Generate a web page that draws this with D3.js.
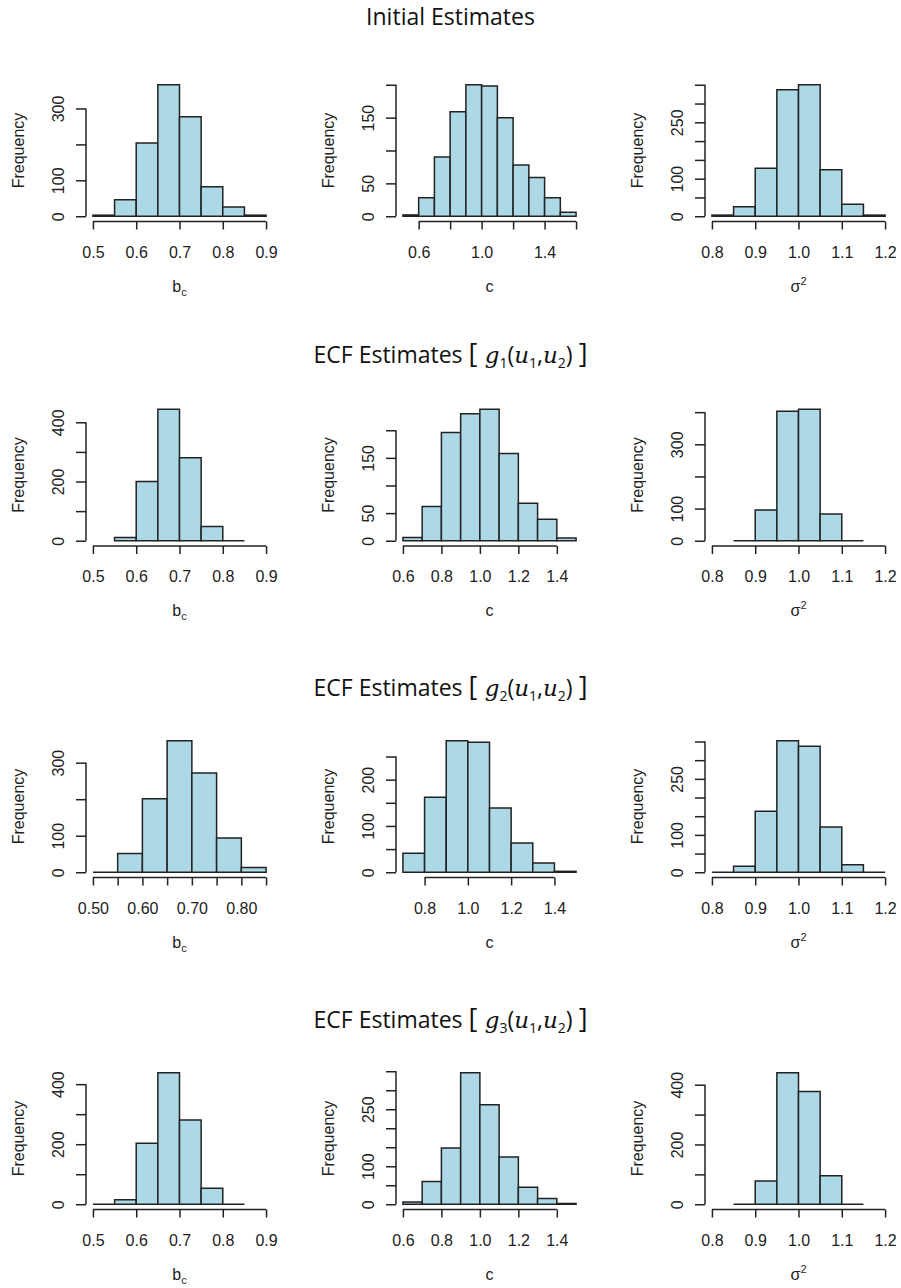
<!DOCTYPE html>
<html>
<head>
<meta charset="utf-8">
<script src="https://cdn.jsdelivr.net/npm/d3@7"></script>
<style>
  body { margin: 0; background: #fff; }
  svg { display: block; }
  text { font-family: "Liberation Sans", Arial, sans-serif; fill: #222; }
  .title { font-family: "Open Sans", "Noto Sans", sans-serif; font-size: 23px; fill: #111; }
</style>
</head>
<body>
<div id="chart"></div>
<script>
// row titles
const rowTitles = ['Initial Estimates', 'g1', 'g2', 'g3']

// bin edges
const bcBreaks = [0.5, 0.55, 0.6, 0.65, 0.7, 0.75, 0.8, 0.85, 0.9]
const bcBreaksB = [0.55, 0.6, 0.65, 0.7, 0.75, 0.8, 0.85]
const bcBreaksC = [0.5, 0.55, 0.6, 0.65, 0.7, 0.75, 0.8, 0.85]
const cBreaksA = [0.5, 0.6, 0.7, 0.8, 0.9, 1.0, 1.1, 1.2, 1.3, 1.4, 1.5, 1.6]
const cBreaksB = [0.6, 0.7, 0.8, 0.9, 1.0, 1.1, 1.2, 1.3, 1.4, 1.5]
const cBreaksC = [0.7, 0.8, 0.9, 1.0, 1.1, 1.2, 1.3, 1.4, 1.5]
const s2BreaksA = [0.8, 0.85, 0.9, 0.95, 1.0, 1.05, 1.1, 1.15, 1.2]
const s2BreaksB = [0.85, 0.9, 0.95, 1.0, 1.05, 1.1, 1.15]

// counts
const initBc = [3, 46, 204, 366, 277, 82, 26, 3]
const initC = [2, 28, 90, 159, 200, 198, 150, 78, 59, 28, 6]
const initS2 = [3, 25, 128, 337, 350, 124, 32, 3]
const g1Bc = [11, 200, 444, 280, 48, 0]
const g1C = [6, 62, 196, 230, 238, 158, 68, 39, 5]
const g1S2 = [0, 96, 403, 409, 83, 0]
const g2Bc = [0, 51, 201, 360, 272, 94, 13]
const g2C = [41, 162, 284, 281, 139, 63, 20, 2]
const g2S2 = [0, 16, 163, 352, 337, 121, 20, 0]
const g3Bc = [0, 15, 203, 438, 281, 53, 0]
const g3C = [6, 60, 148, 346, 262, 124, 45, 15, 2]
const g3S2 = [0, 78, 440, 377, 95, 0]

// x ticks and the labels R kept
const bcTicks = [0.5, 0.6, 0.7, 0.8, 0.9]
const bcTicksFine = [0.5, 0.55, 0.6, 0.65, 0.7, 0.75, 0.8, 0.85]
const bcFineLabels = ['0.50', '', '0.60', '', '0.70', '', '0.80', '']
const cTicksA = [0.6, 0.8, 1.0, 1.2, 1.4, 1.6]
const cLabelsA = ['0.6', '', '1.0', '', '1.4', '']
const cTicksB = [0.6, 0.8, 1.0, 1.2, 1.4]
const cTicksC = [0.8, 1.0, 1.2, 1.4]
const s2Ticks = [0.8, 0.9, 1.0, 1.1, 1.2]

// y ticks and kept labels
const yT300 = [0, 100, 200, 300]
const yT400 = [0, 100, 200, 300, 400]
const yT200 = [0, 50, 100, 150, 200]
const yT250 = [0, 50, 100, 150, 200, 250]
const yT350 = [0, 50, 100, 150, 200, 250, 300, 350]

const panels = [
  // row 1
  { breaks: bcBreaks, counts: initBc, xlim: [0.5, 0.9], xt: bcTicks, yt: yT300, yl: [0, 100, 300], lab: 'b' },
  { breaks: cBreaksA, counts: initC, xlim: [0.5, 1.6], xt: cTicksA, xl: cLabelsA, yt: yT200, yl: [0, 50, 150], lab: 'c' },
  { breaks: s2BreaksA, counts: initS2, xlim: [0.8, 1.2], xt: s2Ticks, yt: yT350, yl: [0, 100, 250], lab: 's' },
  // row 2
  { breaks: bcBreaksB, counts: g1Bc, xlim: [0.5, 0.9], xt: bcTicks, yt: yT400, yl: [0, 200, 400], lab: 'b' },
  { breaks: cBreaksB, counts: g1C, xlim: [0.6, 1.5], xt: cTicksB, yt: yT200, yl: [0, 50, 150], lab: 'c' },
  { breaks: s2BreaksB, counts: g1S2, xlim: [0.8, 1.2], xt: s2Ticks, yt: yT400, yl: [0, 100, 300], lab: 's' },
  // row 3
  { breaks: bcBreaksC, counts: g2Bc, xlim: [0.5, 0.85], xt: bcTicksFine, xl: bcFineLabels, yt: yT300, yl: [0, 100, 300], lab: 'b' },
  { breaks: cBreaksC, counts: g2C, xlim: [0.7, 1.5], xt: cTicksC, yt: yT250, yl: [0, 100, 200], lab: 'c' },
  { breaks: s2BreaksA, counts: g2S2, xlim: [0.8, 1.2], xt: s2Ticks, yt: yT350, yl: [0, 100, 250], lab: 's' },
  // row 4
  { breaks: bcBreaksC, counts: g3Bc, xlim: [0.5, 0.9], xt: bcTicks, yt: yT400, yl: [0, 200, 400], lab: 'b' },
  { breaks: cBreaksB, counts: g3C, xlim: [0.6, 1.5], xt: cTicksB, yt: yT350, yl: [0, 100, 250], lab: 'c' },
  { breaks: s2BreaksB, counts: g3S2, xlim: [0.8, 1.2], xt: s2Ticks, yt: yT400, yl: [0, 200, 400], lab: 's' }
]

const width = 901
const height = 1288
const colLeft = [86, 396, 705]
const rowTop = [79.5, 404, 735.5, 1067.5]
const titleY = [25, 363, 696, 1028]
const plotW = 187
const plotH = 142
const font = '"Liberation Sans", Arial, sans-serif'

const svg = d3.select('#chart').append('svg')
  .attr('width', width)
  .attr('height', height)

svg.append('rect').attr('width', width).attr('height', height).attr('fill', '#fff')

// titles
rowTitles.forEach((t, i) => {
  let txt = svg.append('text')
    .attr('class', 'title')
    .attr('x', width / 2)
    .attr('y', titleY[i])
    .attr('text-anchor', 'middle')
  if (i === 0) {
    txt.text(t)
    return
  }
  const sub = t.slice(1)
  const it = 'DejaVu Serif, serif'
  txt.append('tspan').text('ECF Estimates ')
  txt.append('tspan').text('[').style('font-size', '27px')
  txt.append('tspan').text(' g').style('font-style', 'italic').style('font-family', it)
  txt.append('tspan').text(sub).attr('dy', 5).style('font-size', '14px')
  txt.append('tspan').text('(').attr('dy', -5)
  txt.append('tspan').text('u').style('font-style', 'italic').style('font-family', it)
  txt.append('tspan').text('1').attr('dy', 5).style('font-size', '14px')
  txt.append('tspan').text(',').attr('dy', -5)
  txt.append('tspan').text('u').style('font-style', 'italic').style('font-family', it)
  txt.append('tspan').text('2').attr('dy', 5).style('font-size', '14px')
  txt.append('tspan').text(') ').attr('dy', -5)
  txt.append('tspan').text(']').style('font-size', '27px')
})

panels.forEach((p, i) => {
  const row = Math.floor(i / 3)
  const col = i % 3
  const left = colLeft[col]
  const top = rowTop[row]

  const xr = p.xlim[1] - p.xlim[0]
  const x = d3.scaleLinear()
    .domain([p.xlim[0] - 0.04 * xr, p.xlim[1] + 0.04 * xr])
    .range([left, left + plotW])
  const ymax = d3.max(p.counts)
  const y = d3.scaleLinear()
    .domain([-0.04 * ymax, 1.04 * ymax])
    .range([top + plotH, top])

  const g = svg.append('g')

  // bars (paths so empty bins still show as a line at zero)
  const bins = p.counts.map((c, j) => ({ x0: p.breaks[j], x1: p.breaks[j + 1], n: c }))
  g.selectAll('path.bar')
    .data(bins)
    .enter()
    .append('path')
    .attr('class', 'bar')
    .attr('d', d => {
      const x0 = x(d.x0), x1 = x(d.x1), y0 = y(0), y1 = y(d.n)
      return 'M' + x0 + ',' + y0 + 'V' + y1 + 'H' + x1 + 'V' + y0 + 'Z'
    })
    .attr('fill', '#add8e6')
    .attr('stroke', '#222')
    .attr('stroke-width', 1.5)

  // x axis
  const xl = p.xl || p.xt.map(v => v.toFixed(1))
  const xAxis = d3.axisBottom(x)
    .tickValues(p.xt)
    .tickSize(8)
    .tickPadding(17)
    .tickFormat((d, k) => xl[k])
  const xg = g.append('g')
    .attr('transform', 'translate(0,' + (top + plotH) + ')')
    .call(xAxis)
  xg.select('.domain').remove()
  xg.append('line')
    .attr('x1', x(p.xt[0])).attr('x2', x(p.xt[p.xt.length - 1]))
    .attr('stroke', '#222').attr('stroke-width', 1.5)
  xg.selectAll('.tick line').attr('stroke', '#222').attr('stroke-width', 1.5)
  xg.selectAll('.tick text')
    .style('font-size', '16px')
    .style('font-family', font)
    .attr('fill', '#222')

  // y axis
  const yAxis = d3.axisLeft(y)
    .tickValues(p.yt)
    .tickSize(10)
    .tickFormat(d => p.yl.includes(d) ? String(d) : '')
  const yg = g.append('g')
    .attr('transform', 'translate(' + left + ',0)')
    .call(yAxis)
  yg.select('.domain').remove()
  yg.append('line')
    .attr('y1', y(p.yt[0])).attr('y2', y(p.yt[p.yt.length - 1]))
    .attr('stroke', '#222').attr('stroke-width', 1.5)
  yg.selectAll('.tick line').attr('stroke', '#222').attr('stroke-width', 1.5)
  yg.selectAll('.tick text')
    .attr('x', 0).attr('dy', 0)
    .attr('text-anchor', 'middle')
    .attr('transform', 'translate(-22,0) rotate(-90)')
    .style('font-size', '16px')
    .style('font-family', font)
    .attr('fill', '#222')

  // axis titles
  g.append('text')
    .attr('transform', 'translate(' + (left - 62) + ',' + (top + plotH / 2) + ') rotate(-90)')
    .attr('text-anchor', 'middle')
    .style('font-size', '16px')
    .text('Frequency')

  const lab = g.append('text')
    .attr('x', left + plotW / 2)
    .attr('y', top + plotH + 70)
    .attr('text-anchor', 'middle')
    .style('font-size', '16px')
  if (p.lab === 'b') {
    lab.append('tspan').text('b')
    lab.append('tspan').text('c').attr('dy', 4).style('font-size', '11px')
  } else if (p.lab === 'c') {
    lab.text('c')
  } else {
    lab.append('tspan').text('σ')
    lab.append('tspan').text('2').attr('dy', -7).style('font-size', '11px')
  }
})
</script>
</body>
</html>
